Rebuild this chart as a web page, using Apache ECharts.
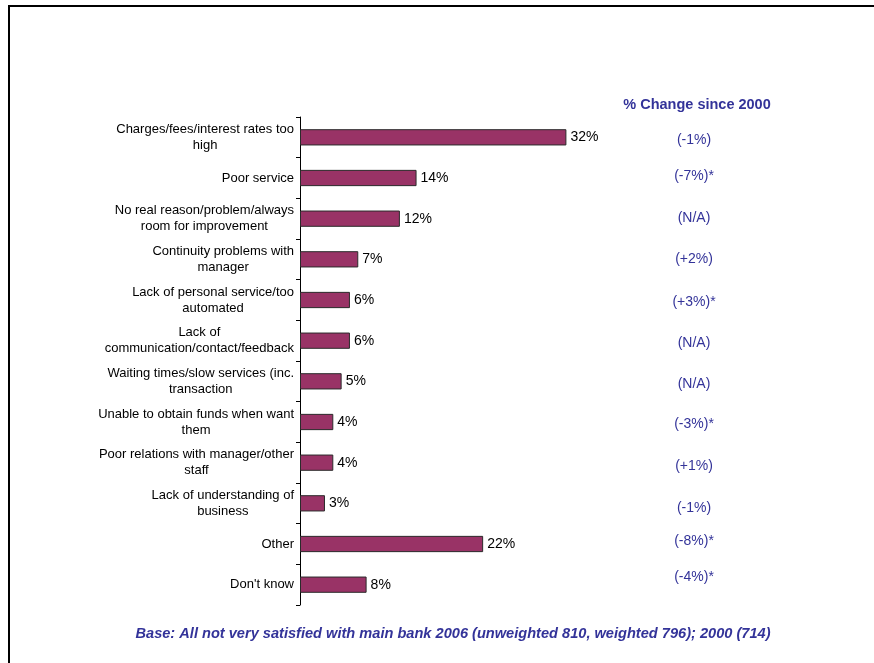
<!DOCTYPE html>
<html>
<head>
<meta charset="utf-8">
<script src="https://cdn.jsdelivr.net/npm/echarts@6/dist/echarts.min.js"></script>
<style>
  html, body { margin: 0; padding: 0; background: #ffffff; }
  #chart { width: 874px; height: 663px; }
</style>
</head>
<body>
<div id="chart"></div>
<script>
// Reasons for dissatisfaction with main bank, 2006
const categories = [
  'Charges/fees/interest rates too\nhigh',
  'Poor service',
  'No real reason/problem/always\nroom for improvement',
  'Continuity problems with\nmanager',
  'Lack of personal service/too\nautomated',
  'Lack of\ncommunication/contact/feedback',
  'Waiting times/slow services (inc.\ntransaction',
  'Unable to obtain funds when want\nthem',
  'Poor relations with manager/other\nstaff',
  'Lack of understanding of\nbusiness',
  'Other',
  "Don't know"
];
const share2006 = [32, 14, 12, 7, 6, 6, 5, 4, 4, 3, 22, 8];
const changeSince2000 = ['(-1%)', '(-7%)*', '(N/A)', '(+2%)', '(+3%)*', '(N/A)', '(N/A)', '(-3%)*', '(+1%)', '(-1%)', '(-8%)*', '(-4%)*'];

const columnTitle = '% Change since 2000';
const baseNote = 'Base: All not very satisfied with main bank 2006 (unweighted 810, weighted 796); 2000 (714)';

// layout: small vertical nudges (px, + = down) for the change column text
const changeNudge = [3, -2, -1, 0, 2, 2, 3, 2, 3, 4.5, -2.5, -8];

const FONT = 'Arial, "Liberation Sans", sans-serif';
const NAVY = '#333399';

const changeRich = {};
changeNudge.forEach((d, i) => {
  changeRich['r' + i] = {
    fontFamily: FONT, fontSize: 14, color: NAVY, align: 'center',
    padding: d >= 0 ? [2 * d, 0, 0, 0] : [0, 0, -2 * d, 0]
  };
});

const chart = echarts.init(document.getElementById('chart'), null, { renderer: 'canvas' });

chart.setOption({
  backgroundColor: '#ffffff',
  animation: false,
  grid: { left: 300, top: 117, width: 333, height: 488, containLabel: false },
  xAxis: {
    type: 'value', min: 0, max: 40, show: false
  },
  yAxis: [
    {
      type: 'category',
      data: categories,
      inverse: true,
      position: 'left',
      axisLine: { show: true, lineStyle: { color: '#000000', width: 1 } },
      axisTick: { show: true, length: 4, lineStyle: { color: '#000000' } },
      axisLabel: {
        margin: 6,
        interval: 0,
        formatter: v => '{c|' + v + '}',
        rich: {
          c: { fontFamily: FONT, fontSize: 13, color: '#000000', align: 'center', lineHeight: 16 }
        }
      },
      splitLine: { show: false }
    },
    {
      type: 'category',
      data: changeSince2000,
      inverse: true,
      position: 'right',
      axisLine: { show: false },
      axisTick: { show: false },
      axisLabel: {
        margin: 61,
        interval: 0,
        align: 'center',
        formatter: (v, i) => '{r' + i + '|' + v + '}',
        rich: changeRich
      },
      splitLine: { show: false }
    }
  ],
  series: [
    {
      type: 'bar',
      yAxisIndex: 0,
      data: share2006,
      barWidth: '40%',
      itemStyle: { color: '#993366', borderColor: '#2b2b2b', borderWidth: 1 },
      label: {
        show: true,
        position: 'right',
        distance: 4,
        formatter: p => p.value + '%',
        fontFamily: FONT,
        fontSize: 14,
        color: '#000000'
      }
    }
  ],
  graphic: [
    // frame lines along the top and left edges
    { type: 'rect', shape: { x: 8, y: 5, width: 866, height: 2 }, style: { fill: '#000000' } },
    { type: 'rect', shape: { x: 8, y: 5, width: 2, height: 658 }, style: { fill: '#000000' } },
    {
      type: 'text', x: 697, y: 105,
      style: {
        text: columnTitle, fontFamily: FONT, fontSize: 14.5, fontWeight: 'bold',
        fill: NAVY, align: 'center', verticalAlign: 'middle'
      }
    },
    {
      type: 'text', x: 453, y: 634,
      style: {
        text: baseNote, fontFamily: FONT, fontSize: 14.6, fontWeight: 'bold', fontStyle: 'italic',
        fill: NAVY, align: 'center', verticalAlign: 'middle'
      }
    }
  ]
});
</script>
</body>
</html>
